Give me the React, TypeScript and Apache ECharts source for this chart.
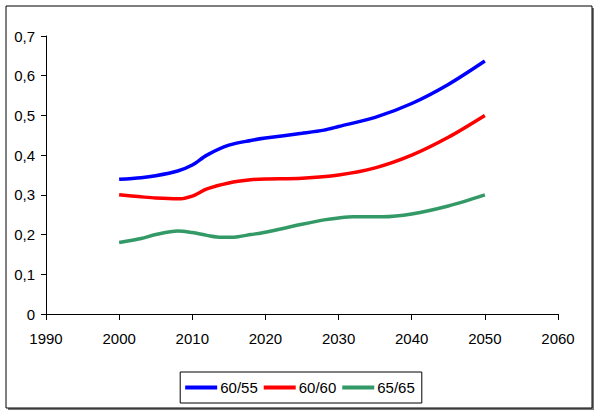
import React, { useEffect, useRef } from "react";
import * as echarts from "echarts";

const seriesNames = ["60/55", "60/60", "65/65"];
const seriesColors = ["#0000FF", "#FF0000", "#339966"];

const blueYears = [2000, 2003, 2005, 2008, 2010, 2012, 2015, 2018, 2020, 2025, 2028, 2030, 2035, 2040, 2045, 2050];
const blueValues = [0.339, 0.343, 0.348, 0.36, 0.375, 0.4, 0.425, 0.437, 0.443, 0.455, 0.463, 0.472, 0.495, 0.53, 0.578, 0.637];

const redYears = [2000, 2003, 2005, 2008, 2010, 2012, 2015, 2018, 2020, 2025, 2030, 2035, 2040, 2045, 2050];
const redValues = [0.3, 0.295, 0.292, 0.29, 0.297, 0.315, 0.33, 0.338, 0.34, 0.342, 0.35, 0.368, 0.4, 0.445, 0.5];

const greenYears = [2000, 2003, 2005, 2008, 2010, 2012, 2014, 2016, 2018, 2020, 2025, 2028, 2030, 2032, 2036, 2040, 2045, 2050];
const greenValues = [0.18, 0.19, 0.2, 0.209, 0.205, 0.198, 0.193, 0.194, 0.2, 0.206, 0.226, 0.237, 0.242, 0.245, 0.245, 0.252, 0.272, 0.3];

const FONT = "'Liberation Sans', Arial, sans-serif";

function pairs(xs: number[], ys: number[]) {
  return xs.map((x, i) => [x, ys[i]]);
}

export default function App() {
  const ref = useRef<HTMLDivElement>(null);
  useEffect(() => {
    if (!ref.current) return;
    const chart = echarts.init(ref.current, null, { renderer: "svg" });
    const data = [pairs(blueYears, blueValues), pairs(redYears, redValues), pairs(greenYears, greenValues)];
    chart.setOption({
      animation: false,
      backgroundColor: "#fff",
      graphic: [
        { type: "rect", shape: { x: 8, y: 8, width: 586, height: 402 }, style: { fill: "#777", stroke: "none" }, z: -10 },
        { type: "rect", shape: { x: 6, y: 6, width: 586, height: 402 }, style: { fill: "#fff", stroke: "#000", lineWidth: 1 }, z: -9 },
      ],
      grid: { left: 46, right: 42, top: 36, bottom: 104, containLabel: false },
      xAxis: {
        type: "value",
        min: 1990,
        max: 2060,
        interval: 10,
        splitLine: { show: false },
        axisLine: { lineStyle: { color: "#000", width: 1 } },
        axisTick: { show: true, inside: false, length: 6, lineStyle: { color: "#000" } },
        axisLabel: { color: "#000", fontSize: 15, fontFamily: FONT, margin: 17, formatter: (v: number) => String(v) },
      },
      yAxis: {
        type: "value",
        min: 0,
        max: 0.7,
        interval: 0.1,
        splitLine: { show: false },
        axisLine: { show: true, lineStyle: { color: "#000", width: 1 } },
        axisTick: { show: true, length: 5, lineStyle: { color: "#000" } },
        axisLabel: {
          color: "#000",
          fontSize: 15,
          fontFamily: FONT,
          margin: 11,
          formatter: (v: number) => (Math.round(v * 10) / 10).toString().replace(".", ","),
        },
      },
      legend: {
        left: "center",
        top: 372,
        data: seriesNames,
        icon: "rect",
        itemWidth: 32,
        itemHeight: 4,
        itemGap: 6,
        padding: [8, 7, 8, 5],
        borderColor: "#000",
        borderWidth: 1,
        textStyle: { color: "#000", fontSize: 15, fontFamily: FONT, padding: [0, 0, 0, -2] },
      },
      series: seriesNames.map((name, i) => ({
        name,
        type: "line",
        data: data[i],
        smooth: 0.3,
        showSymbol: false,
        symbol: "none",
        color: seriesColors[i],
        lineStyle: { color: seriesColors[i], width: 3.5 },
      })),
    });
    return () => chart.dispose();
  }, []);
  return <div ref={ref} style={{ width: 600, height: 418, position: "absolute", left: 0, top: 0 }} />;
}
